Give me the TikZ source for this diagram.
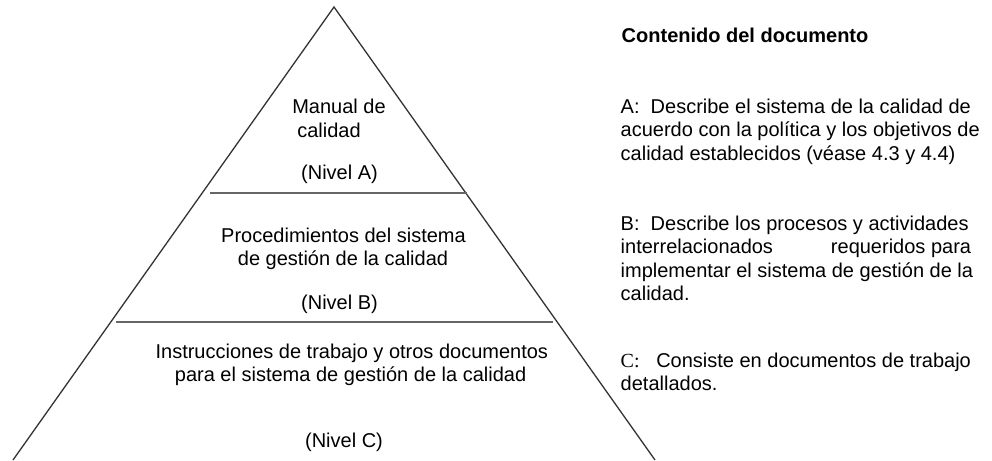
\documentclass[tikz,border=0pt]{standalone}
\usepackage{fontspec}
\setmainfont{Liberation Sans}
\newfontfamily\serifC{Liberation Serif}
\begin{document}
\begin{tikzpicture}[x=1pt,y=-1pt,
  txt/.style={anchor=base,inner sep=0pt,font=\fontsize{20}{23.5}\selectfont},
  rtxt/.style={anchor=base west,inner sep=0pt,font=\fontsize{20}{23.5}\selectfont,align=left},
  side/.style={draw=black!80,line width=1.3pt},
  level/.style={draw=black!60,line width=2pt}]
\useasboundingbox (0,0) rectangle (992,460);
\coordinate (apex) at (334,7);
\coordinate (bl) at (13,460);
\coordinate (br) at (655,460);
\draw[side] (bl) -- (apex) -- (br);
\coordinate (la1) at (210,192.5);
\coordinate (la2) at (467,192.5);
\coordinate (lb1) at (116,321.5);
\coordinate (lb2) at (553,321.5);
\draw[level] (la1) -- (la2);
\draw[level] (lb1) -- (lb2);
% pyramid texts
\node[txt] (m1) at (339,113) {Manual de};
\node[txt] (m2) at (329,137) {calidad};
\node[txt] (na) at (339.5,179) {(Nivel A)};
\node[txt] (p1) at (343.5,242) {Procedimientos del sistema};
\node[txt] (p2) at (343,265) {de gestión de la calidad};
\node[txt] (nb) at (339.5,309) {(Nivel B)};
\node[txt] (i1) at (351.8,358) {Instrucciones de trabajo y otros documentos};
\node[txt] (i2) at (350.6,381) {para el sistema de gestión de la calidad};
\node[txt] (nc) at (344,447) {(Nivel C)};
% right column (base anchor = last line baseline)
\node[rtxt,font=\fontsize{20}{23.5}\selectfont\bfseries] (title) at (621.5,42) {Contenido del documento};
\node[rtxt] (ta) at (620.5,160) {A:\ \ Describe el sistema de la calidad de\\acuerdo con la política y los objetivos de\\calidad establecidos (véase 4.3 y 4.4)};
\node[rtxt] (tb) at (620.5,300.5) {B:\ \ Describe los procesos y actividades\\interrelacionados\hspace{2.9em}requeridos para\\implementar el sistema de gestión de la\\calidad.};
\node[rtxt] (tc) at (620.5,390.5) {{\serifC C:}\ \ \ Consiste en documentos de trabajo\\detallados.};
\end{tikzpicture}
\end{document}
